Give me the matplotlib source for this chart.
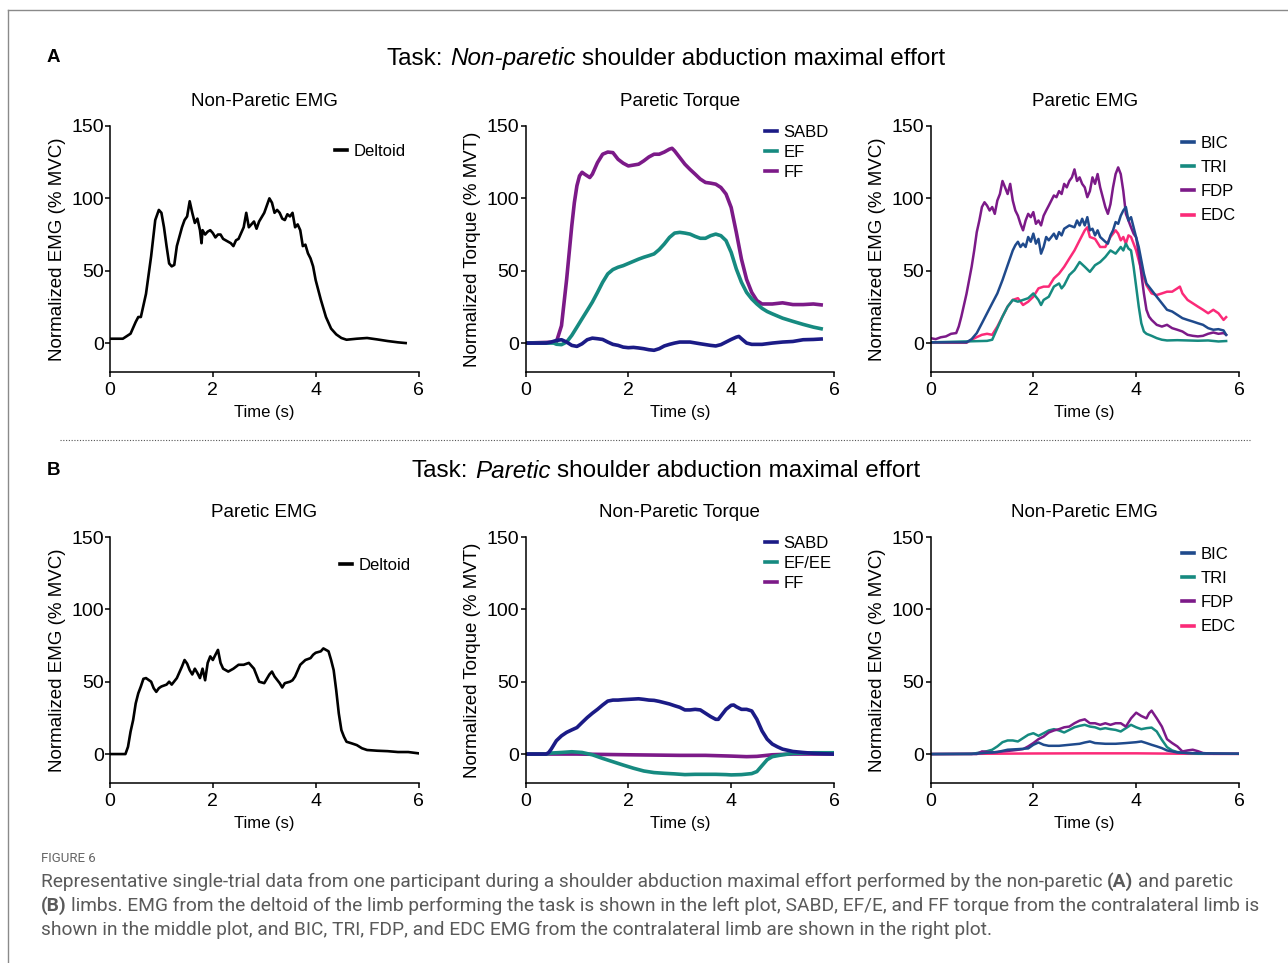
import matplotlib
matplotlib.use('Agg')
import matplotlib.pyplot as plt
from matplotlib import font_manager
from matplotlib.lines import Line2D

# ---- data: (time s, value) ----
# A: non-paretic task
a1_deltoid = [(0, 3), (0.25, 3), (0.4, 6.5), (0.5, 14.6), (0.55, 18), (0.6, 18), (0.7, 34), (0.8, 60),
              (0.88, 85), (0.95, 92), (1.0, 90), (1.05, 80), (1.1, 67), (1.15, 55), (1.2, 53), (1.25, 54),
              (1.3, 67), (1.4, 80), (1.45, 85), (1.5, 87.5), (1.55, 98), (1.6, 90), (1.65, 83), (1.7, 86),
              (1.75, 78), (1.78, 69), (1.8, 78), (1.85, 75), (1.9, 77), (1.95, 78), (2.0, 76), (2.05, 73),
              (2.1, 75), (2.15, 75), (2.2, 72), (2.25, 71), (2.3, 70), (2.35, 69), (2.4, 67), (2.45, 71),
              (2.5, 72), (2.6, 80), (2.65, 90), (2.7, 80), (2.8, 84), (2.85, 79), (2.9, 84), (3.0, 90),
              (3.1, 100), (3.15, 97), (3.2, 90), (3.25, 92), (3.3, 90), (3.35, 86), (3.4, 85), (3.45, 89),
              (3.5, 87.5), (3.55, 90), (3.6, 80), (3.65, 82), (3.7, 78), (3.75, 67), (3.8, 68), (3.85, 62),
              (3.9, 58.5), (3.95, 53), (4.0, 43.5), (4.1, 30), (4.2, 18), (4.3, 10), (4.4, 6), (4.5, 3.5),
              (4.6, 2.3), (4.8, 3), (5.0, 3.5), (5.2, 2.5), (5.4, 1.4), (5.6, 0.5), (5.75, 0)]

a2_sabd = [(0, 0), (0.4, 0), (0.5, 0.7), (0.6, 1.8), (0.7, 2.3), (0.8, 0.7), (0.9, -1.6), (1.0, -2.3),
           (1.1, -0.5), (1.2, 2.3), (1.3, 3.4), (1.4, 3), (1.5, 2.5), (1.6, 0.7), (1.7, -0.9), (1.8, -1.6),
           (1.9, -2.8), (2.0, -3.2), (2.1, -3), (2.2, -3.4), (2.3, -3.9), (2.4, -4.6), (2.5, -5), (2.6, -3.9),
           (2.7, -2), (2.8, -0.9), (2.9, 0), (3.0, 0.7), (3.2, 0.7), (3.4, -0.5), (3.6, -1.6), (3.7, -2),
           (3.8, -1.1), (3.9, 0.7), (4.0, 2.5), (4.1, 4.1), (4.15, 4.6), (4.2, 3), (4.3, 0), (4.4, -0.9),
           (4.6, -0.9), (4.8, 0), (5.0, 0.7), (5.2, 1.1), (5.4, 2.3), (5.6, 2.5), (5.75, 2.8)]
a2_ef = [(0, 0), (0.55, 0), (0.6, -0.8), (0.7, -1.1), (0.8, 0.7), (0.9, 5.3), (1.0, 11), (1.1, 16.8),
         (1.2, 22.5), (1.3, 28.3), (1.4, 35), (1.5, 42), (1.6, 47.8), (1.7, 50.8), (1.8, 52.4), (1.9, 53.5),
         (2.0, 55), (2.1, 56.5), (2.2, 58), (2.3, 59.3), (2.4, 60.4), (2.5, 61.6), (2.6, 64.6), (2.7, 68.5),
         (2.8, 73), (2.9, 76), (3.0, 76.5), (3.1, 76), (3.2, 75.3), (3.3, 73.7), (3.4, 72.4), (3.5, 72.4),
         (3.6, 74.2), (3.7, 75.3), (3.8, 74.2), (3.9, 70.8), (4.0, 62.7), (4.1, 51.2), (4.2, 42), (4.3, 35),
         (4.4, 30.5), (4.5, 27), (4.6, 24), (4.7, 21.8), (4.8, 20.2), (5.0, 17.2), (5.2, 15), (5.4, 12.9),
         (5.6, 11), (5.75, 9.9)]
a2_ff = [(0, 0), (0.6, 0.7), (0.7, 12), (0.8, 44), (0.9, 81), (0.95, 97), (1.0, 108.7), (1.05, 115.5),
         (1.1, 118), (1.15, 116.7), (1.25, 114.4), (1.3, 116.7), (1.4, 124.7), (1.5, 130.5), (1.6, 132),
         (1.7, 131.6), (1.8, 127), (1.9, 124.3), (2.0, 122.4), (2.1, 123), (2.2, 123.6), (2.3, 125.9),
         (2.4, 128.6), (2.5, 130.5), (2.6, 130.5), (2.7, 132), (2.8, 134), (2.85, 134.6), (2.9, 132.8),
         (3.0, 128.2), (3.1, 123.6), (3.2, 120), (3.3, 116.7), (3.4, 113.3), (3.5, 111), (3.6, 110.5),
         (3.7, 109.8), (3.8, 107.5), (3.9, 103), (4.0, 93.7), (4.1, 76.5), (4.2, 58), (4.3, 44), (4.4, 35),
         (4.5, 29.4), (4.6, 27), (4.8, 27), (5.0, 27.8), (5.2, 26.6), (5.4, 26.6), (5.6, 27), (5.75, 26.4)]

a3_bic = [(0, 0.5), (0.7, 0.5), (0.8, 2.7), (0.9, 6.9), (1.0, 13.7), (1.1, 20.6), (1.2, 27.5), (1.3, 34.3),
          (1.4, 43.5), (1.5, 53.8), (1.6, 64), (1.65, 67.6), (1.7, 70), (1.75, 66.4), (1.8, 68.7),
          (1.85, 66.4), (1.9, 73.3), (1.95, 70), (2.0, 75.6), (2.05, 68.7), (2.1, 72), (2.15, 61.8),
          (2.2, 66.4), (2.25, 73.3), (2.3, 71), (2.35, 73.3), (2.4, 75.6), (2.45, 72), (2.5, 76.7),
          (2.55, 74.4), (2.6, 79), (2.7, 81.3), (2.8, 80), (2.85, 84.7), (2.9, 81.3), (2.95, 85.9),
          (3.0, 81.3), (3.05, 87), (3.1, 77.9), (3.15, 79), (3.2, 74.4), (3.25, 77.9), (3.3, 73.3),
          (3.4, 70), (3.45, 68.7), (3.5, 74.4), (3.55, 77.9), (3.6, 83.6), (3.65, 82.4), (3.7, 88),
          (3.75, 91.6), (3.8, 94), (3.85, 84.7), (3.9, 87), (3.95, 80), (4.0, 73), (4.05, 66.4), (4.1, 57.2),
          (4.15, 48), (4.2, 41.2), (4.3, 36.6), (4.4, 32), (4.5, 27.5), (4.6, 23), (4.7, 21.8), (4.8, 19.5),
          (4.9, 17.2), (5.0, 16), (5.1, 14.9), (5.2, 13.7), (5.3, 12.6), (5.4, 10.3), (5.5, 9.2), (5.6, 9.6),
          (5.7, 8.7), (5.75, 5.7)]
a3_tri = [(0, 0.5), (1.1, 1.5), (1.2, 2.3), (1.3, 10.3), (1.4, 18.3), (1.5, 25.2), (1.6, 29.8), (1.7, 28.6),
          (1.8, 29.8), (1.9, 31), (2.0, 34.3), (2.1, 29.8), (2.15, 26.3), (2.2, 29.8), (2.3, 32), (2.4, 39),
          (2.5, 41.2), (2.55, 37.8), (2.6, 40), (2.7, 47), (2.8, 50.4), (2.9, 56), (3.0, 52.7), (3.1, 49.2),
          (3.2, 53.8), (3.3, 56), (3.4, 59.5), (3.5, 64), (3.6, 61.8), (3.7, 66.4), (3.75, 64), (3.8, 68.7),
          (3.85, 65.3), (3.9, 64), (3.95, 52.7), (4.0, 39), (4.05, 25.2), (4.1, 13.7), (4.15, 8), (4.2, 6.4),
          (4.3, 5), (4.4, 3.4), (4.5, 2.3), (4.6, 1.8), (4.8, 2), (5.0, 1.8), (5.2, 1.6), (5.4, 1.8),
          (5.6, 1.1), (5.75, 1.4)]
a3_fdp = [(0, 3.4), (0.1, 2.7), (0.2, 4), (0.3, 4.6), (0.4, 6.4), (0.5, 6.9), (0.55, 11.5), (0.6, 18.3),
          (0.7, 34), (0.8, 52.7), (0.85, 64), (0.9, 76.7), (0.95, 84.7), (1.0, 94), (1.05, 97.3), (1.1, 95),
          (1.15, 91.6), (1.2, 94), (1.25, 89.3), (1.3, 98.5), (1.35, 103), (1.4, 112), (1.45, 107.6),
          (1.5, 103), (1.55, 110), (1.6, 98.5), (1.65, 91.6), (1.7, 88), (1.75, 82.4), (1.8, 77.9),
          (1.85, 84.7), (1.9, 89.3), (1.95, 87), (2.0, 90.5), (2.05, 82.4), (2.1, 84.7), (2.15, 81.3),
          (2.2, 88), (2.25, 91.6), (2.3, 95), (2.35, 98.5), (2.4, 102), (2.45, 100.8), (2.5, 105),
          (2.55, 103), (2.6, 110), (2.65, 107.6), (2.7, 112), (2.75, 114.5), (2.8, 120), (2.85, 112),
          (2.9, 114.5), (2.95, 110), (3.0, 107.6), (3.05, 100.8), (3.1, 105), (3.15, 114.5), (3.2, 110),
          (3.25, 116.8), (3.3, 107.6), (3.35, 100.8), (3.4, 94), (3.45, 89.3), (3.5, 96), (3.55, 107.6),
          (3.6, 116.8), (3.65, 121.4), (3.7, 116.8), (3.75, 105), (3.8, 89.3), (3.85, 84.7), (3.9, 80),
          (3.95, 75.6), (4.0, 73), (4.05, 61.8), (4.1, 48), (4.15, 34.3), (4.2, 23), (4.25, 18.3), (4.3, 16),
          (4.4, 12.6), (4.5, 11.4), (4.6, 12.6), (4.7, 10.3), (4.8, 9.2), (4.9, 8), (5.0, 5.7), (5.1, 5),
          (5.2, 4.6), (5.3, 5), (5.4, 6.4), (5.5, 7.3), (5.6, 6.4), (5.7, 6.9), (5.75, 5.7)]
a3_edc = [(0, 0.2), (0.7, 0.2), (0.8, 2.3), (0.9, 4.1), (1.0, 5.7), (1.1, 6.4), (1.2, 5.7), (1.3, 11.4),
          (1.4, 18.3), (1.5, 25.2), (1.6, 29.8), (1.7, 31), (1.8, 26.3), (1.9, 28.6), (2.0, 32), (2.1, 37.8),
          (2.2, 39), (2.3, 39), (2.4, 44.7), (2.5, 48), (2.6, 52.7), (2.7, 58.4), (2.8, 64), (2.9, 71),
          (3.0, 77.9), (3.05, 80), (3.1, 73.3), (3.2, 72), (3.3, 66.4), (3.4, 66.4), (3.5, 73.3), (3.6, 77.9),
          (3.65, 75.6), (3.7, 71), (3.75, 73.3), (3.8, 68.7), (3.85, 74.4), (3.9, 73.3), (3.95, 68.7),
          (4.0, 64), (4.1, 50.4), (4.2, 40), (4.3, 34.3), (4.4, 33.2), (4.5, 34.3), (4.6, 35.5), (4.7, 35.5),
          (4.8, 37.8), (4.85, 39), (4.9, 34.3), (5.0, 29.8), (5.1, 27.5), (5.2, 25.2), (5.3, 23), (5.4, 20.6),
          (5.5, 23), (5.6, 20.6), (5.65, 18.3), (5.7, 16), (5.75, 17.9)]

# B: paretic task
b1_deltoid = [(0, 0), (0.3, 0), (0.35, 5), (0.4, 15.5), (0.45, 23.5), (0.5, 35), (0.55, 42), (0.6, 46.7),
              (0.65, 52), (0.7, 52.5), (0.8, 50), (0.85, 45.5), (0.9, 43), (0.95, 45.5), (1.0, 46.7),
              (1.1, 48), (1.15, 50), (1.2, 48), (1.3, 52.5), (1.4, 60.5), (1.45, 65), (1.5, 62.5), (1.55, 58),
              (1.6, 55), (1.65, 59), (1.7, 56), (1.75, 52.5), (1.8, 59), (1.85, 51), (1.9, 63), (1.95, 67.5),
              (2.0, 65), (2.05, 68.6), (2.1, 72), (2.15, 63), (2.2, 59), (2.3, 57), (2.4, 59), (2.5, 61.7),
              (2.6, 61.7), (2.7, 63), (2.8, 59), (2.9, 50), (3.0, 49), (3.1, 55), (3.15, 57), (3.2, 53.6),
              (3.3, 49), (3.35, 46), (3.4, 49), (3.5, 50), (3.55, 51), (3.6, 53.6), (3.7, 61.7), (3.8, 65),
              (3.9, 66.3), (3.95, 68.6), (4.0, 70), (4.1, 71), (4.15, 73), (4.2, 72), (4.25, 71), (4.3, 65),
              (4.35, 58), (4.4, 44), (4.45, 28), (4.5, 16.6), (4.55, 12), (4.6, 8.5), (4.7, 7.4), (4.8, 6.2),
              (4.9, 4), (5.0, 2.8), (5.2, 2.3), (5.4, 2), (5.6, 1.4), (5.8, 1.4), (6.0, 0.5)]

b2_sabd = [(0, 0), (0.4, 0), (0.45, 1), (0.5, 3.4), (0.6, 9.2), (0.7, 12.6), (0.8, 15), (0.9, 16.7),
           (1.0, 18.3), (1.1, 21.8), (1.2, 25.2), (1.3, 28.2), (1.4, 30.9), (1.5, 33.9), (1.6, 36.6),
           (1.7, 37.3), (1.8, 37.3), (1.9, 37.6), (2.0, 37.8), (2.1, 38), (2.2, 38.2), (2.3, 37.8), (2.4, 37.3),
           (2.5, 37.1), (2.6, 36.4), (2.7, 35.5), (2.8, 34.6), (2.9, 33.4), (3.0, 32.3), (3.1, 30.5),
           (3.2, 30.5), (3.3, 30.9), (3.4, 30.5), (3.5, 28.2), (3.6, 25.9), (3.7, 24), (3.75, 24), (3.8, 26.3),
           (3.9, 30.9), (4.0, 33.7), (4.05, 33.9), (4.1, 32.7), (4.2, 30.9), (4.3, 30.9), (4.4, 29.8),
           (4.5, 24), (4.6, 16), (4.7, 10.3), (4.8, 6.9), (4.9, 5), (5.0, 3.4), (5.2, 1.8), (5.4, 1.1),
           (5.6, 0.5), (5.8, 0.2), (6.0, 0)]
b2_efee = [(0, 0), (0.4, 0), (0.5, 0.7), (0.7, 1.1), (0.9, 1.6), (1.1, 1.1), (1.3, -0.5), (1.5, -3),
           (1.7, -5.3), (1.9, -7.6), (2.1, -9.8), (2.3, -11.7), (2.5, -12.8), (2.7, -13.3), (2.9, -13.7),
           (3.1, -14.2), (3.3, -14), (3.5, -14), (3.7, -14), (3.9, -14.2), (4.0, -14.4), (4.2, -14.2),
           (4.4, -13.5), (4.5, -12.1), (4.6, -8), (4.7, -3.9), (4.8, -1.8), (5.0, -0.5), (5.2, 0.5),
           (5.4, 0.7), (5.6, 0.9), (6.0, 0.9)]
b2_ff = [(0, 0), (1.0, 0), (2.0, -0.5), (3.0, -0.9), (3.5, -0.9), (4.0, -1.4), (4.3, -1.8), (4.5, -1.6),
         (4.8, -0.5), (5.2, 0), (6.0, 0)]

b3_bic = [(0, 0), (0.9, 0.3), (1.1, 0.9), (1.3, 1.4), (1.5, 3), (1.7, 3.4), (1.9, 3.9), (2.0, 6.4),
          (2.1, 8), (2.2, 6.4), (2.3, 5.7), (2.5, 5.7), (2.7, 6.4), (2.9, 7.1), (3.0, 8), (3.1, 8.7),
          (3.2, 7.6), (3.4, 7.1), (3.6, 7.1), (3.8, 7.6), (4.0, 8.2), (4.1, 8.7), (4.2, 7.6), (4.3, 6.4),
          (4.4, 5.3), (4.5, 4.1), (4.6, 2.5), (4.8, 1.1), (5.0, 0.7), (6.0, 0.2)]
b3_tri = [(0, 0), (0.8, 0), (0.9, 0.7), (1.0, 1.4), (1.1, 2), (1.2, 3), (1.3, 5.3), (1.4, 8.2), (1.5, 9.4),
          (1.6, 9.4), (1.7, 8.7), (1.8, 11), (1.9, 13.3), (2.0, 14.4), (2.1, 12.6), (2.2, 14.4), (2.3, 16.3),
          (2.4, 17.2), (2.5, 16.3), (2.6, 14.9), (2.7, 16.7), (2.8, 18.5), (2.9, 19.5), (3.0, 20.2),
          (3.1, 19), (3.2, 18.5), (3.3, 17.2), (3.4, 17.9), (3.5, 17.2), (3.6, 16.7), (3.7, 15.6),
          (3.8, 17.9), (3.9, 20.2), (4.0, 18.5), (4.1, 17.2), (4.2, 17.9), (4.3, 18.3), (4.4, 15.6),
          (4.5, 9.8), (4.6, 4.8), (4.7, 2.5), (4.8, 1.4), (5.0, 0.7), (5.2, 0.2), (6.0, 0.2)]
b3_fdp = [(0, 0), (0.9, 0), (1.0, 1.8), (1.2, 1.1), (1.4, 1.8), (1.6, 2.5), (1.8, 3.4), (1.9, 5.3),
          (2.0, 7.6), (2.1, 10.3), (2.2, 12.1), (2.3, 14.9), (2.4, 16.3), (2.5, 17.2), (2.6, 18.5),
          (2.7, 19), (2.8, 21.3), (2.9, 23.1), (3.0, 24), (3.1, 21.3), (3.2, 21.3), (3.3, 20.2), (3.4, 21.3),
          (3.5, 20.2), (3.6, 21.3), (3.7, 21.3), (3.8, 19), (3.9, 24.7), (4.0, 28.6), (4.1, 26.3),
          (4.2, 24.7), (4.25, 28.2), (4.3, 30), (4.4, 24.7), (4.5, 19), (4.6, 10.3), (4.7, 7.6), (4.8, 5.3),
          (4.9, 1.8), (5.0, 2.5), (5.1, 3), (5.2, 2), (5.3, 0.7), (5.5, 0.2), (6.0, 0.2)]
b3_edc = [(0, 0), (1.0, 0.2), (2.0, 0.4), (3.0, 0.5), (4.0, 0.5), (5.0, 0.2), (6.0, 0.1)]

caption_lines = [
    [("Representative single-trial data from one participant during a shoulder abduction maximal "
      "effort performed by the non-paretic", 'normal'), ("(A)", 'bold'), ("and paretic", 'normal')],
    [("(B)", 'bold'), ("limbs. EMG from the deltoid of the limb performing the task is shown in the left "
                       "plot, SABD, EF/E, and FF torque from the contralateral limb is", 'normal')],
    [("shown in the middle plot, and BIC, TRI, FDP, and EDC EMG from the contralateral limb are shown "
      "in the right plot.", 'normal')],
]

NAVY = '#1b1b86'
TEAL = '#168a80'
PURPLE = '#7c1a88'
BLUE = '#1f4a8c'
PINK = '#fb2a78'

W, H = 1288, 963
plt.rcParams['font.family'] = ['Liberation Sans', 'DejaVu Sans']
fig = plt.figure(figsize=(W / 100, H / 100), dpi=100)
renderer = fig.canvas.get_renderer()

col_left = [110, 525.5, 930.5]
row_top = [126, 537]
AX_W, AX_H = 308.5, 246


def make_ax(row, col, title, ylabel):
    l, t = col_left[col], row_top[row]
    ax = fig.add_axes([l / W, 1 - (t + AX_H) / H, AX_W / W, AX_H / H])
    ax.set_xlim(0, 6)
    ax.set_ylim(-20, 150)
    ax.set_xticks([0, 2, 4, 6])
    ax.set_yticks([0, 50, 100, 150])
    for s in ['top', 'right']:
        ax.spines[s].set_visible(False)
    for s in ['left', 'bottom']:
        ax.spines[s].set_linewidth(1.1)
    ax.tick_params(direction='out', length=3.5, width=1.1, labelsize=14)
    ax.tick_params(axis='y', pad=1)
    ax.tick_params(axis='x', pad=4)
    ax.set_xlabel('Time (s)', fontsize=12, labelpad=4)
    ax.set_ylabel(ylabel, fontsize=13.5, labelpad=4)
    ax.set_title(title, fontsize=13.5, pad=14.5)
    return ax


def plot_series(ax, pts, color, lw):
    t, v = zip(*pts)
    ax.plot(t, v, color=color, lw=lw, solid_joinstyle='round')


def add_legend(ax, names, colors, x, y, spacing):
    handles = [Line2D([], [], color=c, lw=2.6) for c in colors]
    ax.legend(handles, names, loc='upper left', bbox_to_anchor=(x, y), frameon=False, fontsize=12,
              handlelength=0.75, handletextpad=0.35, labelspacing=spacing, borderaxespad=0, borderpad=0)


EMG_LABEL = 'Normalized EMG (% MVC)'
TQ_LABEL = 'Normalized Torque (% MVT)'

# row A
ax = make_ax(0, 0, 'Non-Paretic EMG', EMG_LABEL)
plot_series(ax, a1_deltoid, 'black', 1.9)
add_legend(ax, ['Deltoid'], ['black'], 0.729, 0.927, 0.3)

ax = make_ax(0, 1, 'Paretic Torque', TQ_LABEL)
plot_series(ax, a2_ff, PURPLE, 2.6)
plot_series(ax, a2_ef, TEAL, 2.6)
plot_series(ax, a2_sabd, NAVY, 2.6)
add_legend(ax, ['SABD', 'EF', 'FF'], [NAVY, TEAL, PURPLE], 0.776, 1.004, 0.29)

ax = make_ax(0, 2, 'Paretic EMG', EMG_LABEL)
plot_series(ax, a3_edc, PINK, 1.8)
plot_series(ax, a3_tri, TEAL, 1.8)
plot_series(ax, a3_fdp, PURPLE, 1.8)
plot_series(ax, a3_bic, BLUE, 1.8)
add_legend(ax, ['BIC', 'TRI', 'FDP', 'EDC'], [BLUE, TEAL, PURPLE, PINK], 0.815, 0.96, 0.55)

# row B
ax = make_ax(1, 0, 'Paretic EMG', EMG_LABEL)
plot_series(ax, b1_deltoid, 'black', 1.9)
add_legend(ax, ['Deltoid'], ['black'], 0.745, 0.915, 0.3)

ax = make_ax(1, 1, 'Non-Paretic Torque', TQ_LABEL)
plot_series(ax, b2_ff, PURPLE, 2.6)
plot_series(ax, b2_efee, TEAL, 2.6)
plot_series(ax, b2_sabd, NAVY, 2.6)
add_legend(ax, ['SABD', 'EF/EE', 'FF'], [NAVY, TEAL, PURPLE], 0.776, 1.004, 0.29)

ax = make_ax(1, 2, 'Non-Paretic EMG', EMG_LABEL)
plot_series(ax, b3_edc, PINK, 1.8)
plot_series(ax, b3_tri, TEAL, 1.8)
plot_series(ax, b3_fdp, PURPLE, 1.8)
plot_series(ax, b3_bic, BLUE, 1.8)
add_legend(ax, ['BIC', 'TRI', 'FDP', 'EDC'], [BLUE, TEAL, PURPLE, PINK], 0.815, 0.96, 0.55)


# ---- text made of runs with different styles ----
def run_width(s, **kw):
    t = fig.text(0, 0, s, **kw)
    w = t.get_window_extent(renderer).width
    t.remove()
    return w


def runs_layout(runs, style_key, **kw):
    sp = run_width('a a', **kw) - run_width('aa', **kw)
    widths = [run_width(s, **{style_key: st}, **kw) for s, st in runs]
    return widths, sp, sum(widths) + sp * (len(runs) - 1)


def draw_runs(x, y, runs, style_key, ha='left', **kw):
    widths, sp, total = runs_layout(runs, style_key, **kw)
    x0 = x - total / 2 if ha == 'center' else x
    for (s, st), w in zip(runs, widths):
        fig.text(x0 / W, 1 - y / H, s, ha='left', va='center', **{style_key: st}, **kw)
        x0 += w + sp


task_a = [("Task:", 'normal'), ("Non-paretic", 'italic'), ("shoulder abduction maximal effort", 'normal')]
task_b = [("Task:", 'normal'), ("Paretic", 'italic'), ("shoulder abduction maximal effort", 'normal')]
draw_runs(666, 59, task_a, 'fontstyle', ha='center', fontsize=17.5)
draw_runs(666, 471, task_b, 'fontstyle', ha='center', fontsize=17.5)

fig.text(47 / W, 1 - 57 / H, 'A', fontsize=13.5, fontweight='bold', va='center')
fig.text(47 / W, 1 - 470 / H, 'B', fontsize=13.5, fontweight='bold', va='center')

# frame lines and separator
fig.add_artist(Line2D([8 / W, 1], [1 - 10 / H, 1 - 10 / H], transform=fig.transFigure, color='#8a8a8a', lw=1))
fig.add_artist(Line2D([8 / W, 8 / W], [0, 1 - 10 / H], transform=fig.transFigure, color='#8a8a8a', lw=1))
fig.add_artist(Line2D([60 / W, 1250 / W], [1 - 440 / H, 1 - 440 / H], transform=fig.transFigure,
                      color='#555555', lw=0.8, linestyle=(0, (1, 1.5))))

# caption
try:
    font_manager.findfont('Liberation Sans Narrow', fallback_to_default=False)
    cap_font = 'Liberation Sans Narrow'
except ValueError:
    cap_font = 'Roboto'

_, _, w10 = runs_layout(caption_lines[0], 'fontweight', fontsize=10, family=cap_font)
cap_size = 10 * 1200 / w10
fig.text(41 / W, 1 - 858 / H, 'FIGURE 6', fontsize=9.5, color='#666666', family=cap_font, va='center')
for i, line in enumerate(caption_lines):
    draw_runs(41, 882 + 24 * i, line, 'fontweight', fontsize=cap_size, family=cap_font, color='#5a5a5a')

fig.savefig('out.png', dpi=100)
